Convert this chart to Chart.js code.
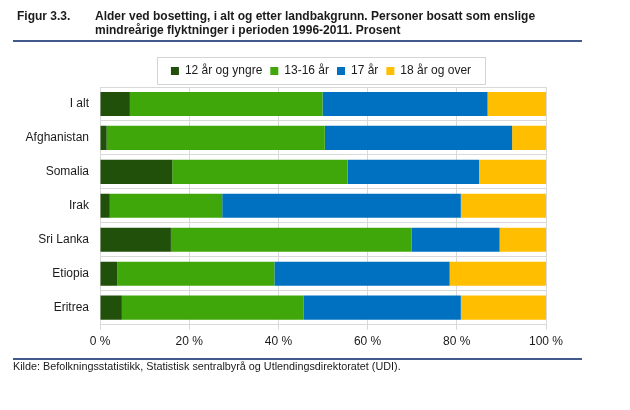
<!DOCTYPE html>
<html>
<head>
<meta charset="utf-8">
<script src="https://cdn.jsdelivr.net/npm/chart.js@4"></script>
<style>
  body { margin: 0; background: #fff; font-family: "Liberation Sans", Arial, sans-serif; color: #1a1a1a; }
  #wrap { position: relative; width: 630px; height: 410px; }
  #wrap canvas { position: absolute; left: 0; top: 0; }
  .t { position: absolute; font-weight: bold; font-size: 12px; line-height: 14px; }
  .rule { position: absolute; left: 13px; width: 569px; height: 2px; background: #41598b; }
  #kilde { position: absolute; left: 13px; top: 360px; font-size: 10.8px; }
</style>
</head>
<body>
<div id="wrap">
  <canvas id="myChart" width="630" height="410"></canvas>
  <div class="t" style="left:17px; top:9px;">Figur 3.3.</div>
  <div class="t" style="left:95px; top:9px;">Alder ved bosetting, i alt og etter landbakgrunn. Personer bosatt som enslige<br>mindreårige flyktninger i perioden 1996-2011. Prosent</div>
  <div class="rule" style="top:40px;"></div>
  <div class="rule" style="top:358px;"></div>
  <div id="kilde">Kilde: Befolkningsstatistikk, Statistisk sentralbyrå og Utlendingsdirektoratet (UDI).</div>
</div>
<script>
// data (prosent)
var land = ['I alt', 'Afghanistan', 'Somalia', 'Irak', 'Sri Lanka', 'Etiopia', 'Eritrea'];
var yngre12 = [6.7, 1.5, 16.2, 2.2, 15.9, 3.9, 4.9];
var aar13_16 = [43.2, 48.9, 39.3, 25.2, 54.0, 35.2, 40.7];
var aar17 = [37.0, 42.0, 29.5, 53.5, 19.7, 39.3, 35.3];
var over18 = [13.1, 7.6, 15.0, 19.1, 10.4, 21.6, 19.1];
var xTicks = [0, 20, 40, 60, 80, 100];

// legend centred over the plot area, with a thin frame round it
var legendBox = {
  id: 'legendBox',
  afterLayout: function(chart) {
    chart.legend.left = chart.chartArea.left - 4;
    chart.legend.right = chart.chartArea.right;
  },
  afterDraw: function(chart) {
    var boxes = chart.legend.legendHitBoxes;
    if (!boxes || !boxes.length) return;
    var l = Math.min.apply(null, boxes.map(function(b){ return b.left; }));
    var r = Math.max.apply(null, boxes.map(function(b){ return b.left + b.width; }));
    var t = boxes[0].top, h = boxes[0].height;
    var ctx = chart.ctx;
    ctx.save();
    ctx.strokeStyle = '#d4d4d4';
    ctx.lineWidth = 1;
    ctx.strokeRect(Math.round(l - 14) + 0.5, Math.round(t - 8) + 0.5, Math.round(r - l + 28), Math.round(h + 15));
    ctx.restore();
  }
};

var ctx = document.getElementById('myChart');
new Chart(ctx, {
  type: 'bar',
  data: {
    labels: land,
    datasets: [
      { label: '12 år og yngre', data: yngre12, backgroundColor: '#21500a' },
      { label: '13-16 år', data: aar13_16, backgroundColor: '#40a70a' },
      { label: '17 år', data: aar17, backgroundColor: '#0071c1' },
      { label: '18 år og over', data: over18, backgroundColor: '#ffbf00' }
    ]
  },
  options: {
    indexAxis: 'y',
    responsive: false,
    animation: false,
    devicePixelRatio: 1,
    layout: { padding: { top: 57, left: 0, right: 84, bottom: 56 } },
    datasets: { bar: { barPercentage: 0.71, categoryPercentage: 1 } },
    plugins: {
      tooltip: { enabled: false },
      legend: {
        position: 'top',
        labels: {
          boxWidth: 8, boxHeight: 8, padding: 8,
          color: '#1a1a1a',
          font: { family: 'Liberation Sans', size: 12 }
        }
      }
    },
    scales: {
      x: {
        stacked: true,
        min: 0, max: 100,
        afterBuildTicks: function(s) { s.ticks = xTicks.map(function(v){ return { value: v }; }); },
        grid: { color: '#d9d9d9', tickLength: 5 },
        border: { color: '#d9d9d9' },
        ticks: {
          padding: 5,
          color: '#1a1a1a',
          font: { family: 'Liberation Sans', size: 12 },
          callback: function(v) { return v + ' %'; }
        }
      },
      y: {
        stacked: true,
        afterFit: function(s) { s.width = 100; },
        grid: { color: '#d9d9d9', offset: true, tickLength: 0 },
        border: { color: '#d9d9d9' },
        ticks: {
          padding: 11,
          color: '#1a1a1a',
          font: { family: 'Liberation Sans', size: 12 }
        }
      }
    }
  },
  plugins: [legendBox]
});
</script>
</body>
</html>
